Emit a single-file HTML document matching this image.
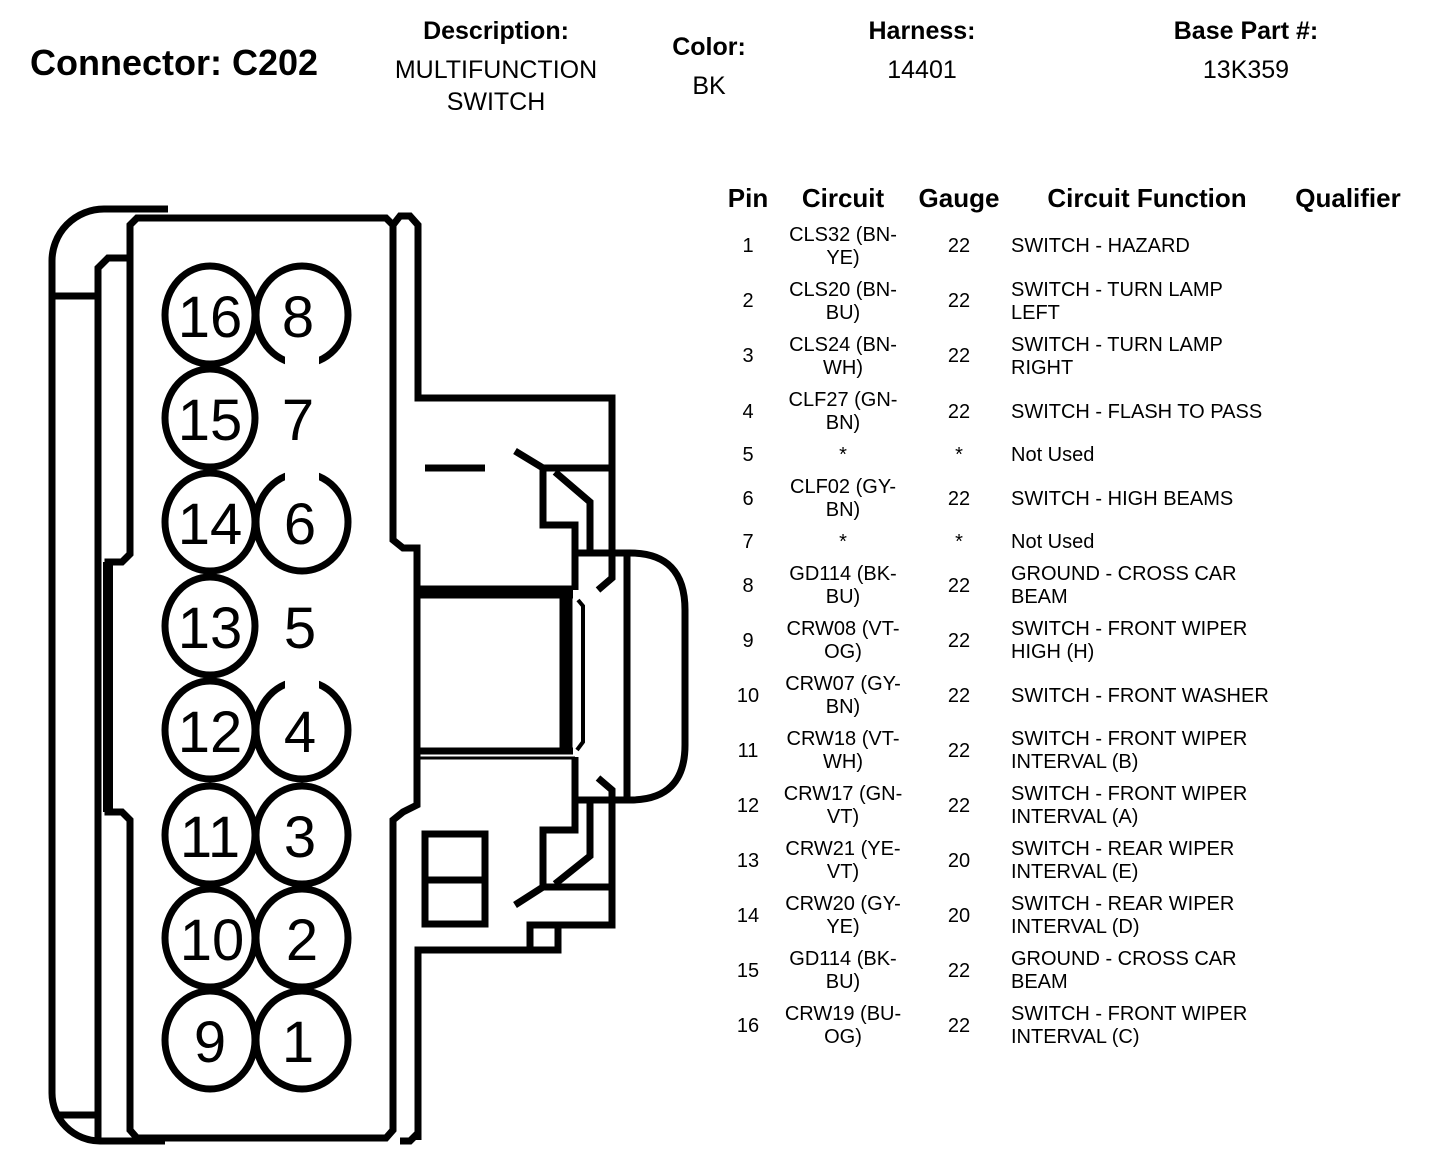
<!DOCTYPE html>
<html><head><meta charset="utf-8"><style>
html,body{margin:0;padding:0;background:#fff;}
svg{display:block;}
text{font-family:"Liberation Sans",Arial,sans-serif;fill:#000;}
.h{font-weight:bold;font-size:25px;}
.v{font-size:25px;}
.th{font-weight:bold;font-size:26px;}
.t{font-size:20px;}
.n{font-size:58px;}
</style></head><body>
<svg width="1440" height="1174" viewBox="0 0 1440 1174" xmlns="http://www.w3.org/2000/svg">
<text x="30" y="75" style="font-weight:bold;font-size:36px">Connector: C202</text>
<g text-anchor="middle">
<text class="h" x="496" y="39">Description:</text>
<text class="v" x="496" y="78">MULTIFUNCTION</text>
<text class="v" x="496" y="110">SWITCH</text>
<text class="h" x="709" y="55">Color:</text>
<text class="v" x="709" y="94">BK</text>
<text class="h" x="922" y="39">Harness:</text>
<text class="v" x="922" y="78">14401</text>
<text class="h" x="1246" y="39">Base Part #:</text>
<text class="v" x="1246" y="78">13K359</text>
</g>
<g text-anchor="middle">
<text class="th" x="748" y="207">Pin</text>
<text class="th" x="843" y="207">Circuit</text>
<text class="th" x="959" y="207">Gauge</text>
<text class="th" x="1147" y="207">Circuit Function</text>
<text class="th" x="1348" y="207">Qualifier</text>
</g>
<g class="t">
<g text-anchor="middle">
<text x="748" y="252">1</text><text x="843" y="241">CLS32 (BN-</text><text x="843" y="264">YE)</text><text x="959" y="252">22</text>
<text x="748" y="307">2</text><text x="843" y="296">CLS20 (BN-</text><text x="843" y="319">BU)</text><text x="959" y="307">22</text>
<text x="748" y="362">3</text><text x="843" y="351">CLS24 (BN-</text><text x="843" y="374">WH)</text><text x="959" y="362">22</text>
<text x="748" y="418">4</text><text x="843" y="406">CLF27 (GN-</text><text x="843" y="429">BN)</text><text x="959" y="418">22</text>
<text x="748" y="461">5</text><text x="843" y="461">*</text><text x="959" y="461">*</text>
<text x="748" y="505">6</text><text x="843" y="493">CLF02 (GY-</text><text x="843" y="516">BN)</text><text x="959" y="505">22</text>
<text x="748" y="548">7</text><text x="843" y="548">*</text><text x="959" y="548">*</text>
<text x="748" y="592">8</text><text x="843" y="580">GD114 (BK-</text><text x="843" y="603">BU)</text><text x="959" y="592">22</text>
<text x="748" y="647">9</text><text x="843" y="635">CRW08 (VT-</text><text x="843" y="658">OG)</text><text x="959" y="647">22</text>
<text x="748" y="702">10</text><text x="843" y="690">CRW07 (GY-</text><text x="843" y="713">BN)</text><text x="959" y="702">22</text>
<text x="748" y="757">11</text><text x="843" y="745">CRW18 (VT-</text><text x="843" y="768">WH)</text><text x="959" y="757">22</text>
<text x="748" y="812">12</text><text x="843" y="800">CRW17 (GN-</text><text x="843" y="823">VT)</text><text x="959" y="812">22</text>
<text x="748" y="867">13</text><text x="843" y="855">CRW21 (YE-</text><text x="843" y="878">VT)</text><text x="959" y="867">20</text>
<text x="748" y="922">14</text><text x="843" y="910">CRW20 (GY-</text><text x="843" y="933">YE)</text><text x="959" y="922">20</text>
<text x="748" y="977">15</text><text x="843" y="965">GD114 (BK-</text><text x="843" y="988">BU)</text><text x="959" y="977">22</text>
<text x="748" y="1032">16</text><text x="843" y="1020">CRW19 (BU-</text><text x="843" y="1043">OG)</text><text x="959" y="1032">22</text>
</g>
<text x="1011" y="252">SWITCH - HAZARD</text>
<text x="1011" y="296">SWITCH - TURN LAMP</text><text x="1011" y="319">LEFT</text>
<text x="1011" y="351">SWITCH - TURN LAMP</text><text x="1011" y="374">RIGHT</text>
<text x="1011" y="418">SWITCH - FLASH TO PASS</text>
<text x="1011" y="461">Not Used</text>
<text x="1011" y="505">SWITCH - HIGH BEAMS</text>
<text x="1011" y="548">Not Used</text>
<text x="1011" y="580">GROUND - CROSS CAR</text><text x="1011" y="603">BEAM</text>
<text x="1011" y="635">SWITCH - FRONT WIPER</text><text x="1011" y="658">HIGH (H)</text>
<text x="1011" y="702">SWITCH - FRONT WASHER</text>
<text x="1011" y="745">SWITCH - FRONT WIPER</text><text x="1011" y="768">INTERVAL (B)</text>
<text x="1011" y="800">SWITCH - FRONT WIPER</text><text x="1011" y="823">INTERVAL (A)</text>
<text x="1011" y="855">SWITCH - REAR WIPER</text><text x="1011" y="878">INTERVAL (E)</text>
<text x="1011" y="910">SWITCH - REAR WIPER</text><text x="1011" y="933">INTERVAL (D)</text>
<text x="1011" y="965">GROUND - CROSS CAR</text><text x="1011" y="988">BEAM</text>
<text x="1011" y="1020">SWITCH - FRONT WIPER</text><text x="1011" y="1043">INTERVAL (C)</text>
</g>

<g fill="none" stroke="#000" stroke-width="7" stroke-linejoin="miter">
<path d="M165,1141 H100 A48,48 0 0 1 52,1093 V262 A52,52 0 0 1 104,209 H168"/>
<path d="M55,296 H95 M55,1115 H95"/>
<path d="M98,1141 V268 L108,258 H128"/>
<path d="M130,1130 V820 L122,812 H108 V562 H122 L130,554 V225 L137,218 H386 L393,225 V540 L403,548 H417 V805 L403,812 L393,820 V1130 L386,1138 H137 Z"/>
<path d="M108,562 V812" stroke-width="10"/>
<path d="M393,225 L400,216 H410 L418,225 V398 H612 V578 L598,590"/>
<path d="M418,1140 V950 H530 V925 H612 V790 L598,778"/>
<path d="M400,1141 L410,1141 L418,1133"/>
<path d="M530,950 H558 V925"/>
<path d="M425,468 H485"/>
<path d="M515,451 L543,468 H612"/>
<path d="M543,468 V525 H575 V590"/>
<path d="M555,472 L590,502 V552"/>
<path d="M515,905 L543,887 H612"/>
<path d="M543,887 V830 H575 V757"/>
<path d="M555,884 L590,856 V803"/>
<rect x="425" y="834" width="60" height="90"/>
<path d="M425,880 H485"/>
<path d="M417,592 H573" stroke-width="13"/>
<path d="M566,592 V752" stroke-width="13"/>
<path d="M417,751 H573"/>
<path d="M417,758 H575" stroke-width="3"/>
<path d="M578,600 L583,606 V742 L577,750" stroke-width="4"/>
<path d="M575,553 H630 Q685,553 685,610 V745 Q685,800 630,800 H575"/>
<path d="M627,553 V800"/>
<ellipse cx="210" cy="315" rx="45" ry="49"/>
<ellipse cx="210" cy="418" rx="45" ry="49"/>
<ellipse cx="210" cy="522" rx="45" ry="49"/>
<ellipse cx="210" cy="626" rx="45" ry="49"/>
<ellipse cx="210" cy="730" rx="45" ry="49"/>
<ellipse cx="210" cy="835" rx="45" ry="49"/>
<ellipse cx="210" cy="938" rx="45" ry="49"/>
<ellipse cx="210" cy="1040" rx="45" ry="49"/>
<ellipse cx="302" cy="315" rx="46" ry="49"/>
<ellipse cx="302" cy="522" rx="46" ry="49"/>
<ellipse cx="302" cy="730" rx="46" ry="49"/>
<ellipse cx="302" cy="835" rx="46" ry="49"/>
<ellipse cx="302" cy="938" rx="46" ry="49"/>
<ellipse cx="302" cy="1040" rx="46" ry="49"/>
</g>
<g fill="#fff">
<rect x="285" y="355" width="34" height="16"/>
<rect x="285" y="466" width="34" height="16"/>
<rect x="285" y="674" width="34" height="16"/>
</g>
<g class="n" text-anchor="middle">
<text x="210" y="337">16</text><text x="298" y="337">8</text>
<text x="210" y="440">15</text><text x="298" y="440">7</text>
<text x="210" y="544">14</text><text x="300" y="544">6</text>
<text x="210" y="648">13</text><text x="300" y="648">5</text>
<text x="210" y="752">12</text><text x="300" y="752">4</text>
<text x="210" y="857">11</text><text x="300" y="857">3</text>
<text x="212" y="960">10</text><text x="302" y="960">2</text>
<text x="210" y="1062">9</text><text x="298" y="1062">1</text>
</g>
</svg>
</body></html>
